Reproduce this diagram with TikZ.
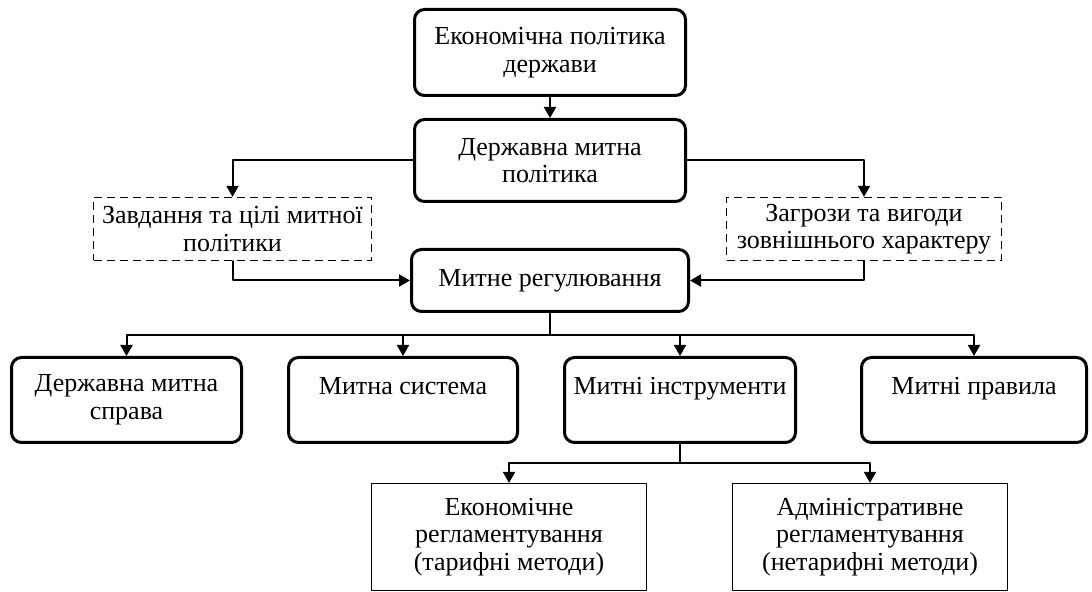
\documentclass[tikz,border=0pt]{standalone}
\usepackage{fontspec}
\setmainfont{Liberation Serif}
\usetikzlibrary{arrows.meta}

\begin{document}
\begin{tikzpicture}[x=0.5pt, y=-0.5pt, line cap=round, line join=round, >={Triangle[length=5.5pt,width=6pt]},
    every node/.style={font=\fontsize{13}{13.8}\selectfont, align=center, inner sep=0pt},
    box/.style={draw, line width=1.5pt, rounded corners=5pt},
    dashbox/.style={draw, line width=0.7pt, line cap=butt, dash pattern=on 4pt off 2.5pt},
    plainbox/.style={draw, line width=0.6pt},
    conn/.style={line width=1pt, ->}]
    \useasboundingbox (0,0) rectangle (1092,592);
    \draw(550,52.5) node[box, minimum width=135.5pt, minimum height=43pt] (econ) {Економічна політика\\держави};
    \draw(550,160.5) node[box, minimum width=135.5pt, minimum height=41pt] (dmp) {Державна митна\\політика};
    \draw(232.5,229) node[dashbox, minimum width=139pt, minimum height=31.5pt] (tasks) {Завдання та цілі митної\\політики};
    \draw(864,229) node[dashbox, minimum width=137.5pt, minimum height=31.5pt] (threats) {Загрози та вигоди\\зовнішнього характеру};
    \draw(550,280.5) node[box, minimum width=138.5pt, minimum height=31pt] (reg) {Митне регулювання};
    \draw(126.5,400) node[box, minimum width=115pt, minimum height=42.5pt] (dms) {Державна митна\\справа};
    \draw(403,400) node[box, minimum width=114.5pt, minimum height=42.5pt] (msys) {Митна система\\~};
    \draw(680,400) node[box, minimum width=115.5pt, minimum height=42.5pt] (minst) {Митні інструменти\\~};
    \draw(974,400) node[box, minimum width=112.5pt, minimum height=42.5pt] (mrul) {Митні правила\\~};
    \draw(509,537) node[plainbox, minimum width=137.5pt, minimum height=53.5pt] (econreg) {Економічне\\регламентування\\(тарифні методи)};
    \draw(870,537) node[plainbox, minimum width=137.5pt, minimum height=53.5pt] (admreg) {Адміністративне\\регламентування\\(нетарифні методи)};
    \coordinate (bus1) at (550,335);
    \coordinate (bus2) at (680,463);
    \draw[conn] (econ) -- (dmp);
    \draw[conn] (dmp.west) -| (tasks.north);
    \draw[conn] (dmp.east) -| (threats.north);
    \draw[conn] (tasks.south) |- (reg.west);
    \draw[conn] (threats.south) |- (reg.east);
    \foreach \n in {dms,msys,minst,mrul}
        \draw[conn] (reg.south) -- (reg.south |- bus1) -| (\n.north);
    \foreach \n in {econreg,admreg}
        \draw[conn] (minst.south) -- (minst.south |- bus2) -| (\n.north);
    \end{tikzpicture}
\end{document}
